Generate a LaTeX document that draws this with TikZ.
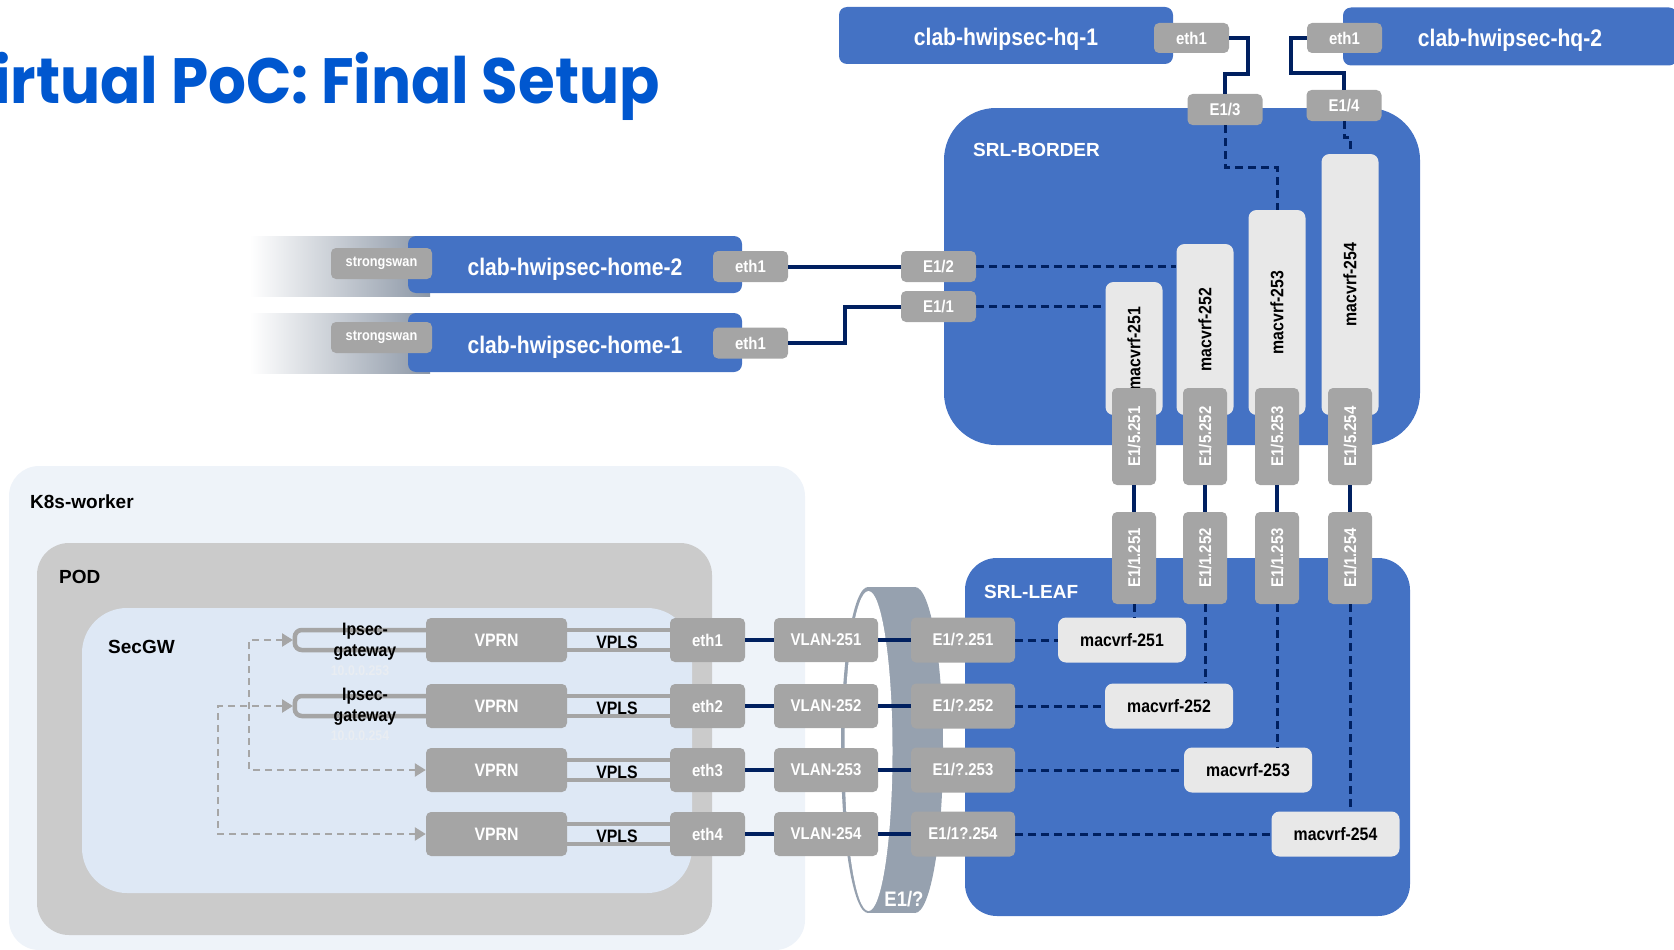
\documentclass[tikz,border=0pt]{standalone}
\usepackage{fontspec}
\setmainfont{Liberation Sans}
\newfontfamily\narrowfont{Liberation Sans}[FakeStretch=0.88]
\newfontfamily\titlefont{Poppins}[FakeStretch=0.93]
\usepackage{graphicx}
\usepackage{xcolor}
\usetikzlibrary{arrows.meta,positioning,calc}

\definecolor{nokblue}{HTML}{4472C4}
\definecolor{portgrey}{HTML}{A5A5A5}
\definecolor{vrflight}{HTML}{E8E8E8}
\definecolor{navy}{HTML}{002060}
\definecolor{k8sbg}{HTML}{EEF3F9}
\definecolor{podgrey}{HTML}{CBCBCB}
\definecolor{secgwbg}{HTML}{DEE8F5}
\definecolor{ringgrey}{HTML}{96A1AF}
\definecolor{fadegrey}{HTML}{8C97A6}
\definecolor{titleblue}{HTML}{0057CF}
\definecolor{arrowgrey}{HTML}{A6A6A6}
\definecolor{fainttxt}{HTML}{E9EDF2}

\tikzset{
  hostbox/.style={fill=nokblue, rounded corners=8pt, text=white, inner sep=0pt,
    minimum width=334pt, minimum height=57pt, text height=22pt, text depth=1pt,
    font=\narrowfont\bfseries\fontsize{24}{28}\selectfont},
  port/.style={fill=portgrey, rounded corners=5pt, text=white, inner sep=0pt,
    minimum width=75pt, minimum height=31pt,
    font=\narrowfont\bfseries\fontsize{17}{20}\selectfont},
  vrfbox/.style={fill=vrflight, rounded corners=8pt, text=black, inner sep=0pt,
    font=\narrowfont\bfseries\fontsize{18}{20}\selectfont},
  arealabel/.style={anchor=west, inner sep=0pt, font=\bfseries\fontsize{19}{22}\selectfont},
  link/.style={navy, line width=4pt},
  vlink/.style={navy, line width=3pt, dash pattern=on 8pt off 5pt},
  tube/.style={portgrey, line width=4.5pt, rounded corners=7pt},
  garrow/.style={arrowgrey, line width=2.5pt, dash pattern=on 7pt off 5pt,
    {Triangle[length=11pt,width=13pt]}-{Triangle[length=11pt,width=13pt]}},
}

\begin{document}
\begin{tikzpicture}[x=1pt,y=-1pt]
    \useasboundingbox (0,0) rectangle (1674,950);
    \clip (0,0) rectangle (1674,950);

    % Title
    \node[anchor=base east, inner sep=0pt, text=titleblue,
      font=\titlefont\bfseries\fontsize{64}{70}\selectfont] (title) at (660,103) {Virtual PoC: Final Setup};

    % Areas
    \fill[k8sbg, rounded corners=30pt] (9,466) rectangle (805,950);
    \node[arealabel] (k8s) at (30,502) {K8s-worker};
    \fill[podgrey, rounded corners=32pt] (37,543) rectangle (712,935);
    \node[arealabel] (pod) at (59,577) {POD};
    \fill[secgwbg, rounded corners=45pt] (82,608) rectangle (692,893);
    \node[arealabel] (secgw) at (108,647) {SecGW};
    \fill[nokblue, rounded corners=52pt] (944,108) rectangle (1420,445);
    \node[arealabel, text=white] (border) at (973,150) {SRL-BORDER};
    \fill[nokblue, rounded corners=32pt] (965,558) rectangle (1410,916);
    \node[arealabel, text=white] (leaf) at (984,592) {SRL-LEAF};

    % HQ hosts
    \node[hostbox] (hq1) at (1006,35.5) {clab-hwipsec-hq-1};
    \node[port, minimum height=30pt] (hq1eth) at (1191.5,38) {eth1};
    \node[hostbox, minimum height=58pt] (hq2) at (1510,36.5) {clab-hwipsec-hq-2};
    \node[port, minimum height=30pt] (hq2eth) at (1344.5,38) {eth1};
    \node[port] (e13) at (1225,109.5) {E1/3};
    \node[port] (e14) at (1344,105.5) {E1/4};

    % Home hosts
    \shade[left color=white, right color=fadegrey] (250,236) rectangle (430,296);
    \shade[left color=white, right color=fadegrey] (250,313) rectangle (430,373);
    \node[hostbox] (home2) at (575,264.5) {clab-hwipsec-home-2};
    \node[hostbox, minimum height=59pt] (home1) at (575,342.5) {clab-hwipsec-home-1};
    \node[port, minimum width=101pt, font=\narrowfont\bfseries\fontsize{14.5}{17}\selectfont] (sw2) at (381.5,263.5) {strongswan};
    \node[port, minimum width=101pt, font=\narrowfont\bfseries\fontsize{14.5}{17}\selectfont] (sw1) at (381.5,337.5) {strongswan};
    \node[port] (h2eth) at (750.5,266.5) {eth1};
    \node[port] (h1eth) at (750.5,343) {eth1};
    \node[port] (e12) at (938.5,266.5) {E1/2};
    \node[port] (e11) at (938.5,306.5) {E1/1};

    % Border mac-vrfs and sub-interfaces
    \foreach \i/\x/\y/\h in {1/1134/348.5/133, 2/1205/329.5/171, 3/1277/312.5/205, 4/1350/284.5/261}{
      \node[vrfbox, minimum width=57pt, minimum height=\h*1pt] (bm\i) at (\x,\y) {\rotatebox{90}{macvrf-25\i}};
      \node[port, minimum width=44pt, minimum height=97pt] (bp\i) at (\x,436.5) {\rotatebox{90}{E1/5.25\i}};
      \node[port, minimum width=44pt, minimum height=92pt] (lp\i) at (\x,558) {\rotatebox{90}{E1/1.25\i}};
      \draw[link] (bp\i) -- (lp\i);
    }

    % Uplinks
    \draw[link] (hq1eth.east) -| (1248,74) -| (e13.north);
    \draw[link] (hq2eth.west) -| (1291,73) -| (e14.north);
    \draw[vlink] (e13.south) |- (1277,167) -- (bm3.north);
    \draw[vlink] (e14.south) -- (1344,137) -- (1350,137) -- (bm4.north);
    \draw[link] (h2eth.east) -- (e12.west);
    \draw[link] (h1eth.east) -- ++(57,0) |- (e11.west);
    \draw[vlink] (e12.east) -- (e12.east -| bm2.west);
    \draw[vlink] (e11.east) -- (e11.east -| bm1.west);

    % Ring
    \fill[ringgrey] (868,750) ellipse [x radius=27pt, y radius=163pt];
    \fill[ringgrey] (915,750) ellipse [x radius=28pt, y radius=163pt];
    \fill[ringgrey] (868,587) rectangle (915,913);
    \fill[white] (868.5,751) ellipse [x radius=24pt, y radius=160pt];
    \node[inner sep=0pt, text=white, font=\narrowfont\bfseries\fontsize{21}{24}\selectfont] (ringlbl) at (904,899) {E1/?};

    % Rows
    \foreach \i/\y/\ep/\mx in {1/640/E1\slash?.251/1122, 2/706/E1\slash?.252/1169, 3/770/E1\slash?.253/1248, 4/834/E1\slash1?.254/1335.5}{
      \node[port, minimum width=141pt, minimum height=44pt, font=\narrowfont\bfseries\fontsize{18}{20}\selectfont] (vprn\i) at (496.5,\y) {VPRN};
      \node[port, minimum height=44pt] (eth\i) at (707.5,\y) {eth\i};
      \draw[tube] ([yshift=10pt]vprn\i.east) -- ([yshift=10pt]eth\i.west);
      \draw[tube] ([yshift=-10pt]vprn\i.east) -- ([yshift=-10pt]eth\i.west);
      \node[inner sep=0pt, font=\narrowfont\bfseries\fontsize{18}{20}\selectfont] (vpls\i) at (617,\y+2) {VPLS};
      \node[port, minimum width=104pt, minimum height=44pt] (vlan\i) at (826,\y) {VLAN-25\i};
      \node[port, minimum width=104pt, minimum height=45pt] (ep\i) at (963,\y) {\ep};
      \node[vrfbox, minimum width=128pt, minimum height=45pt] (lm\i) at (\mx,\y) {macvrf-25\i};
      \draw[link] (eth\i) -- (vlan\i);
      \draw[link] (vlan\i) -- (ep\i);
      \draw[vlink] (ep\i) -- (lm\i);
      \draw[vlink] (lp\i.south) -- (lp\i.south |- lm\i.north);
    }

    % Ipsec gateways
    \foreach \i/\y/\ip in {1/642/10.0.0.253, 2/707/10.0.0.254}{
      \draw[tube] ([yshift=10pt]vprn\i.west) -- ++(-131,0) -- ++(0,20) -- ++(131,0);
      \node[inner sep=0pt, text=fainttxt, font=\narrowfont\bfseries\fontsize{14}{16}\selectfont] (ip\i) at (360,\y+29) {\ip};
      \node[inner sep=0pt, align=center, font=\narrowfont\bfseries\fontsize{18}{21}\selectfont] (ipg\i) at (365,\y) {Ipsec-\\gateway};
    }
    \coordinate (gw1) at (293,640);
    \coordinate (gw2) at (293,706);
    \draw[garrow] (gw1) -| (249,770) -- (vprn3.west);
    \draw[garrow] (gw2) -| (218,834) -- (vprn4.west);
\end{tikzpicture}
\end{document}
